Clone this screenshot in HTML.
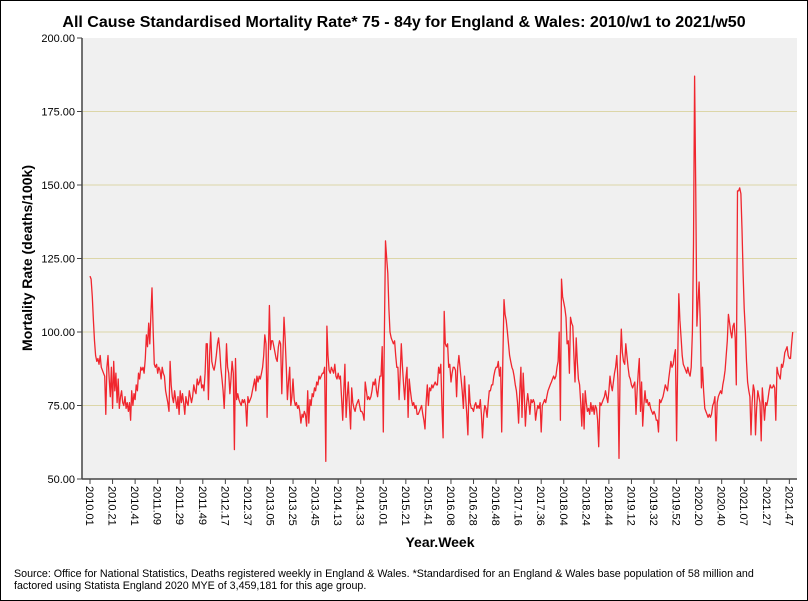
<!DOCTYPE html>
<html><head><meta charset="utf-8"><style>
body{margin:0;background:#fff;}
svg{display:block;font-family:"Liberation Sans",Arial,sans-serif;}
</style></head><body>
<svg id="chart" width="808" height="601" viewBox="0 0 808 601">
<rect x="0.5" y="0.5" width="807" height="600" fill="#fff" stroke="#000"/>
<text x="404" y="27" text-anchor="middle" font-size="16" font-weight="bold">All Cause Standardised Mortality Rate* 75 - 84y for England &amp; Wales: 2010/w1 to 2021/w50</text>
<rect x="82" y="38" width="715" height="441" fill="#f0f0f0"/>
<g id="grid"></g>
<g id="yaxis"></g>
<g id="xaxis"></g>
<path id="series" fill="none" stroke="#f0262e" stroke-width="1.3" stroke-linejoin="round"/>
<line x1="82" y1="38" x2="82" y2="479" stroke="#444" stroke-width="1.5"/>
<line x1="82" y1="479" x2="797" y2="479" stroke="#444" stroke-width="1.5"/>
<text transform="translate(32,258) rotate(-90)" text-anchor="middle" font-size="14" font-weight="bold">Mortality Rate (deaths/100k)</text>
<text x="440" y="547" text-anchor="middle" font-size="14" font-weight="bold">Year.Week</text>
<text x="14" y="577" font-size="10.7">Source: Office for National Statistics, Deaths registered weekly in England &amp; Wales. *Standardised for an England &amp; Wales base population of 58 million and</text>
<text x="14" y="589" font-size="10.7">factored using Statista England 2020 MYE of 3,459,181 for this age group.</text>
</svg>
<script>
const yearStarts = [2010,2011,2012,2013,2014,2015,2016,2017,2018,2019,2020,2021];
const yearWeeks = [52,52,52,52,52,53,52,52,52,52,53,50];
const yTicks = [50,75,100,125,150,175,200];
const y2010 = [119,118,112,104,97,92,90,91,89,92,88,87,86,85,72,88,92,84,78,88,74,90,80,86,76,84,74,78,80,76,75,78,74,76,73,76,70,80,75,79,77,82,80,86,84,88,87,88,86,91,99,95];
const y2011 = [103,96,106,115,100,89,88,89,86,88,87,84,88,86,85,80,78,76,73,90,82,78,76,80,77,74,78,72,80,76,79,76,72,78,76,75,80,78,76,78,82,80,79,84,82,83,85,81,82,80,86,96];
const y2012 = [96,77,92,100,90,88,87,89,92,96,98,94,88,84,80,74,84,96,88,86,79,84,90,86,60,91,77,79,77,76,75,77,76,77,75,68,78,76,77,78,80,82,84,80,85,83,85,84,86,88,92,99];
const y2013 = [96,71,90,109,94,97,97,95,93,91,90,95,97,96,79,92,105,98,88,77,83,88,75,78,84,77,75,76,74,75,73,69,72,71,73,72,68,80,69,77,75,79,78,81,80,83,82,85,84,85,86,86];
const y2014 = [88,56,102,92,87,86,88,87,86,89,85,84,86,84,85,78,70,80,89,71,78,83,75,67,81,76,74,73,75,76,77,75,73,73,72,70,83,80,77,78,77,78,80,83,82,84,80,78,82,85,85,95];
const y2015 = [66,100,131,125,120,108,100,98,97,96,97,92,88,88,77,86,96,88,82,77,84,88,71,84,80,77,75,76,74,75,72,72,73,74,75,72,70,67,76,82,75,81,80,82,81,82,83,82,82,88,86,89,75];
const y2016 = [64,107,96,95,96,88,89,83,86,88,88,87,78,88,92,88,84,80,74,85,78,72,65,82,76,74,74,73,75,76,74,75,74,77,72,64,72,75,74,71,76,80,80,82,82,85,87,88,88,90,85,88];
const y2017 = [66,90,111,106,104,100,96,92,90,88,87,85,82,80,76,69,80,88,71,86,78,68,75,79,76,72,77,76,77,76,70,73,75,74,76,66,75,76,77,76,78,80,81,82,83,84,85,84,85,88,90,100];
const y2018 = [70,118,112,110,108,105,96,97,86,105,103,102,92,83,98,90,84,82,76,68,79,67,80,76,73,74,72,76,73,75,72,75,74,70,61,76,75,76,77,78,80,78,76,80,85,82,80,83,86,88,92,84];
const y2019 = [57,90,101,93,90,89,96,92,88,85,84,82,81,82,83,72,80,86,91,73,83,68,75,80,76,77,75,76,74,73,72,73,72,70,70,66,77,76,77,78,80,82,81,80,84,87,90,88,89,92,94,63];
const y2020 = [90,113,104,98,92,89,88,87,86,88,86,85,88,100,130,187,150,102,110,117,104,81,88,80,74,73,72,71,72,71,72,75,76,78,63,76,78,79,80,79,82,84,87,92,97,106,103,100,98,102,103,98,82];
const y2021 = [148,148,149,147,135,120,108,100,90,83,80,78,65,76,82,80,65,74,80,78,76,63,81,76,70,76,75,77,80,82,81,81,82,81,70,88,86,85,84,89,88,90,93,94,95,92,91,91,96,100];

const NS='http://www.w3.org/2000/svg';
const X0=90, DX=1.128, YTOP=38, YBOT=479, VMIN=50, VMAX=200;
function xPos(i){return X0+DX*i;}
function yPos(v){return YBOT-(v-VMIN)/(VMAX-VMIN)*(YBOT-YTOP);}
function mk(tag,attrs,parent){const e=document.createElementNS(NS,tag);for(const k in attrs)e.setAttribute(k,attrs[k]);parent.appendChild(e);return e;}

const values=[].concat(y2010,y2011,y2012,y2013,y2014,y2015,y2016,y2017,y2018,y2019,y2020,y2021);
const labels=[];
yearStarts.forEach((yr,k)=>{for(let w=1;w<=yearWeeks[k];w++)labels.push(yr+'.'+(w<10?'0'+w:w));});

const grid=document.getElementById('grid'), ya=document.getElementById('yaxis'), xa=document.getElementById('xaxis');
yTicks.forEach(t=>{
  const y=yPos(t);
  if(t>VMIN&&t<VMAX){
    const g=mk('line',{x1:82,x2:797,y1:y,y2:y,stroke:'#dcd6a8','stroke-width':1},grid);
    
    
  }
  const tk=mk('line',{x1:77,x2:82,y1:y,y2:y,stroke:'#444','stroke-width':1},ya);
  
  
  const tx=mk('text',{x:75,y:y+4,'text-anchor':'end','font-size':11},ya);
  tx.textContent=t.toFixed(2);
  
  
});
for(let i=0;i<labels.length;i+=20){
  const x=xPos(i);
  const tk=mk('line',{x1:x,x2:x,y1:479,y2:484,stroke:'#444','stroke-width':1},xa);
  
  
  const tx=mk('text',{transform:'translate('+(x-4)+',486) rotate(90)','font-size':11},xa);
  tx.textContent=labels[i];
  
  
}
let d='';
values.forEach((v,i)=>{d+=(i?'L':'M')+xPos(i).toFixed(1)+','+yPos(v).toFixed(1);});
document.getElementById('series').setAttribute('d',d);
</script>
</body></html>
